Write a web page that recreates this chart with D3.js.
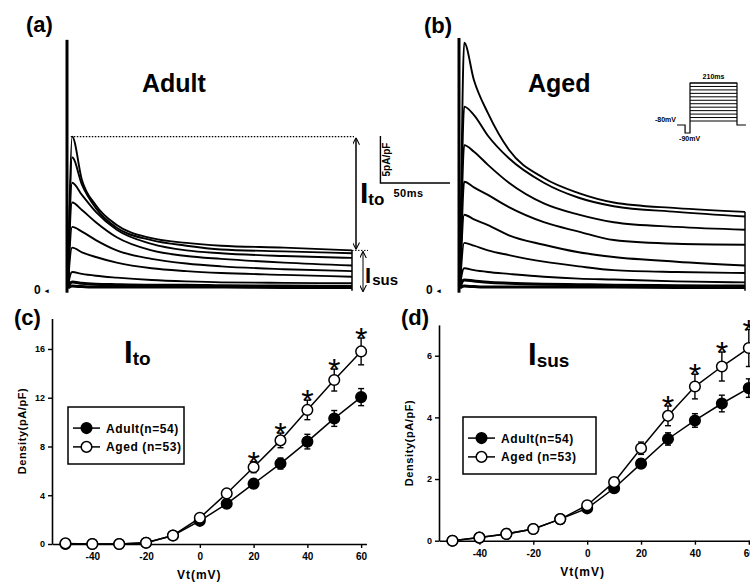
<!DOCTYPE html>
<html>
<head>
<meta charset="utf-8">
<script src="https://cdn.jsdelivr.net/npm/d3@7"></script>
<style>
  body { margin: 0; background: #fff; }
  text { font-family: "Liberation Sans", Arial, sans-serif; font-weight: bold; fill: #000; }
</style>
</head>
<body>
<div id="chart"></div>
<script>
var width = 750;
var height = 587;

// test potentials (mV)
var voltages = [-50, -40, -30, -20, -10, 0, 10, 20, 30, 40, 50, 60];

// Ito density (pA/pF)
var itoAdult = [0, 0, 0, 0.1, 0.7, 1.9, 3.3, 4.95, 6.6, 8.4, 10.3, 12.05];
var itoAdultErr = [0.05, 0.05, 0.05, 0.1, 0.15, 0.2, 0.3, 0.35, 0.45, 0.6, 0.65, 0.7];
var itoAged = [0.05, 0, 0, 0.1, 0.7, 2.15, 4.15, 6.3, 8.5, 11.0, 13.45, 15.8];
var itoAgedErr = [0.05, 0.05, 0.05, 0.1, 0.15, 0.25, 0.3, 0.45, 0.6, 0.8, 0.9, 1.1];
var itoStars = [20, 30, 40, 50, 60];

// Isus density (pA/pF)
var susAdult = [0, 0.1, 0.22, 0.38, 0.7, 1.05, 1.7, 2.5, 3.3, 3.9, 4.45, 4.95];
var susAdultErr = [0.03, 0.03, 0.05, 0.05, 0.08, 0.1, 0.12, 0.15, 0.2, 0.22, 0.27, 0.3];
var susAged = [0, 0.1, 0.22, 0.38, 0.7, 1.15, 1.9, 3.0, 4.05, 5.0, 5.65, 6.25];
var susAgedErr = [0.03, 0.03, 0.05, 0.05, 0.08, 0.1, 0.12, 0.2, 0.32, 0.4, 0.47, 0.6];
var susStars = [30, 40, 50, 60];

var itoTicks = [0, 4, 8, 12, 16];
var susTicks = [0, 2, 4, 6];
var vTicks = [-40, -20, 0, 20, 40, 60];
var legendLabels = ['Adult(n=54)', 'Aged (n=53)'];

// current traces, sampled at traceTimes (ms), values in pA/pF
var traceTimes = [0, 1, 3, 10, 20, 35, 60, 85, 110, 155, 204];
var adultTraces = [
  [0, 8, 16.1, 11.5, 8.8, 6.7, 5.3, 4.8, 4.5, 4.3, 4.0],
  [0, 7, 13.9, 11.0, 8.5, 6.4, 5.1, 4.5, 4.1, 3.9, 3.7],
  [0, 6, 11.2, 9.9, 8.1, 6.2, 4.7, 4.0, 3.7, 3.4, 3.2],
  [0, 5, 9.1, 8.3, 7.0, 5.4, 4.0, 3.4, 3.1, 2.7, 2.4],
  [0, 3.5, 6.5, 6.0, 5.1, 4.0, 3.1, 2.6, 2.3, 2.0, 1.8],
  [0, 2.5, 4.3, 3.8, 3.3, 2.7, 2.1, 1.8, 1.6, 1.4, 1.2],
  [0, 1.0, 1.7, 1.5, 1.3, 1.1, 0.85, 0.7, 0.6, 0.55, 0.5],
  [0, 0.4, 0.65, 0.5, 0.4, 0.35, 0.3, 0.3, 0.25, 0.2, 0.15],
  [0, 0.1, 0.2, 0.15, 0.1, 0.1, 0.1, 0.1, 0.1, 0.05, 0.05]
];
var agedTraces = [
  [0, 12, 26.1, 22.1, 18.6, 14.7, 11.7, 10.1, 9.1, 8.5, 8.1],
  [0, 9, 19.3, 18.4, 16.2, 13.8, 11.2, 9.6, 8.7, 8.1, 7.6],
  [0, 7, 15.2, 14.5, 13.1, 11.2, 9.0, 7.8, 7.0, 6.5, 6.2],
  [0, 5, 11.3, 10.7, 9.9, 8.6, 7.0, 6.0, 5.1, 4.7, 4.6],
  [0, 4, 7.8, 7.3, 6.7, 5.6, 4.6, 3.8, 3.3, 2.8, 2.4],
  [0, 2.5, 4.8, 4.5, 4.0, 3.5, 2.8, 2.3, 1.9, 1.7, 1.6],
  [0, 1.2, 2.1, 1.9, 1.7, 1.5, 1.2, 1.0, 0.9, 0.7, 0.6],
  [0, 0.5, 0.85, 0.75, 0.6, 0.5, 0.4, 0.35, 0.3, 0.25, 0.2],
  [0, 0.1, 0.2, 0.15, 0.1, 0.1, 0.1, 0.1, 0.1, 0.05, 0.05]
];
var artifactTop = [26.4, 26.6];

// voltage protocol inset
var protoTimes = [-58, -22, 0, 210, 250];
var holdV = -80;
var preV = -90;

var svg = d3.select('#chart').append('svg')
  .attr('width', width)
  .attr('height', height);

svg.append('defs').append('marker')
  .attr('id', 'arr')
  .attr('viewBox', '0 0 10 10')
  .attr('refX', 10).attr('refY', 5)
  .attr('markerWidth', 7).attr('markerHeight', 7)
  .attr('markerUnits', 'userSpaceOnUse')
  .attr('orient', 'auto-start-reverse')
  .append('path')
  .attr('d', 'M0,0 L10,5 L0,10')
  .attr('fill', 'none')
  .attr('stroke', '#000')
  .attr('stroke-width', 1.5);

// ---------- panels (a) and (b): current traces ----------
var cur = d3.scaleLinear().domain([0, 27]).range([288, 34.2]);
var ta = d3.scaleLinear().domain([0, 204]).range([68, 352]);
var tb = d3.scaleLinear().domain([0, 204]).range([460, 745]);

function drawTraces(g, tx, traces, artTop) {
  var line = d3.line()
    .x(function(d, i) { return tx(traceTimes[i]); })
    .y(function(d) { return cur(d); })
    .curve(d3.curveMonotoneX);
  g.selectAll('.trace')
    .data(traces)
    .enter()
    .append('path')
    .attr('class', 'trace')
    .attr('d', function(d) { return line(d); })
    .attr('fill', 'none')
    .attr('stroke', '#000')
    .attr('stroke-width', function(d, i) { return i >= traces.length - 2 ? 3 : 1.9; });
  // capacitive artifact
  g.append('line')
    .attr('x1', tx(0) - 1).attr('x2', tx(0) - 1)
    .attr('y1', cur(-0.5)).attr('y2', cur(artTop))
    .attr('stroke', '#000').attr('stroke-width', 3);
  // tail at end of pulse
  var tEnd = traceTimes[traceTimes.length - 1];
  g.append('line')
    .attr('x1', tx(tEnd)).attr('x2', tx(tEnd))
    .attr('y1', cur(traces[0][traces[0].length - 1])).attr('y2', cur(-0.3))
    .attr('stroke', '#000').attr('stroke-width', 1.5);
  g.append('text')
    .attr('x', tx(0) - 34).attr('y', cur(0) + 6)
    .attr('font-size', 12)
    .text('0');
  g.append('text')
    .attr('x', tx(0) - 23).attr('y', cur(0) + 5)
    .attr('font-size', 7)
    .text('\u25C2');
}

var ga = svg.append('g');
drawTraces(ga, ta, adultTraces, artifactTop[0]);
var gb = svg.append('g');
drawTraces(gb, tb, agedTraces, artifactTop[1]);

// Ito / Isus annotations on (a)
var tEndA = traceTimes[traceTimes.length - 1];
var peakA = d3.max(adultTraces[0]);
var susA = adultTraces[0][adultTraces[0].length - 1];
ga.append('line')
  .attr('x1', ta(2)).attr('x2', ta(tEndA) + 2)
  .attr('y1', cur(peakA)).attr('y2', cur(peakA))
  .attr('stroke', '#000').attr('stroke-width', 1.4)
  .attr('stroke-dasharray', '1.5,1.5');
ga.append('line')
  .attr('x1', ta(tEndA) + 4).attr('x2', ta(tEndA) + 4)
  .attr('y1', cur(peakA) + 1).attr('y2', cur(susA) - 1)
  .attr('stroke', '#000').attr('stroke-width', 1.5)
  .attr('marker-start', 'url(#arr)')
  .attr('marker-end', 'url(#arr)');
ga.append('line')
  .attr('x1', ta(tEndA)).attr('x2', ta(tEndA) + 16)
  .attr('y1', cur(susA)).attr('y2', cur(susA))
  .attr('stroke', '#000').attr('stroke-width', 1)
  .attr('stroke-dasharray', '1.5,1.5');
ga.append('line')
  .attr('x1', ta(tEndA) + 11).attr('x2', ta(tEndA) + 11)
  .attr('y1', cur(susA) + 1).attr('y2', cur(-0.4))
  .attr('stroke', '#000').attr('stroke-width', 1)
  .attr('marker-start', 'url(#arr)')
  .attr('marker-end', 'url(#arr)');

var itoLab = svg.append('text').attr('x', 360).attr('y', 203);
itoLab.append('tspan').attr('font-size', 30).text('I');
itoLab.append('tspan').attr('font-size', 17).attr('dy', 2).text('to');
var susLab = svg.append('text').attr('x', 365).attr('y', 283);
susLab.append('tspan').attr('font-size', 22).text('I');
susLab.append('tspan').attr('font-size', 15).attr('dx', 1).attr('dy', 2).text('sus');

// scale bar 5 pA/pF, 50 ms
var sbx = ta(0) + (tb(0) - ta(0)) * 0.797;
svg.append('path')
  .attr('d', 'M' + sbx + ',' + (cur(0) - 105 + cur(5) - cur(0)) + ' V' + (cur(0) - 105) +
    ' H' + (sbx + (ta(50) - ta(0))))
  .attr('fill', 'none')
  .attr('stroke', '#000')
  .attr('stroke-width', 1.4);
svg.append('text')
  .attr('transform', 'translate(' + (sbx + 10) + ',' + (cur(0) - 105 + (cur(5) - cur(0)) / 2) + ') rotate(-90)')
  .attr('text-anchor', 'middle')
  .attr('font-size', 10)
  .text('5pA/pF');
svg.append('text')
  .attr('x', sbx + 13).attr('y', cur(0) - 91)
  .attr('font-size', 11)
  .attr('letter-spacing', 0.5)
  .text('50ms');

// voltage protocol inset on (b)
var px = d3.scaleLinear().domain([0, 210]).range([690, 737]);
var py = d3.scaleLinear().domain([-90, -80, -50, 60]).range([133, 125, 121, 83]);
var proto = svg.append('g');
proto.append('path')
  .attr('d', 'M' + px(protoTimes[0]) + ',' + py(holdV) + ' H' + px(protoTimes[1]) +
    ' V' + py(preV) + ' H' + px(protoTimes[2]) + ' V' + py(voltages[voltages.length - 1]) +
    ' H' + px(protoTimes[3]) + ' V' + py(holdV) + ' H' + px(protoTimes[4]))
  .attr('fill', 'none').attr('stroke', '#000').attr('stroke-width', 1.2);
proto.selectAll('.step')
  .data(voltages)
  .enter()
  .append('line')
  .attr('x1', px(0)).attr('x2', px(210))
  .attr('y1', function(d) { return py(d); })
  .attr('y2', function(d) { return py(d); })
  .attr('stroke', '#000').attr('stroke-width', 1);
proto.append('text').attr('x', px(105)).attr('y', py(60) - 4)
  .attr('text-anchor', 'middle').attr('font-size', 7).text('210ms');
proto.append('text').attr('x', px(protoTimes[0]) - 1).attr('y', py(holdV) - 3)
  .attr('text-anchor', 'end').attr('font-size', 7).text('-80mV');
proto.append('text').attr('x', px(protoTimes[1]) - 6).attr('y', py(preV) + 8)
  .attr('font-size', 7).text('-90mV');
proto.selectAll('text').style('fill', '#000');

// titles
svg.append('text').attr('x', 142).attr('y', 92).attr('font-size', 25).text('Adult');
svg.append('text').attr('x', 528).attr('y', 92).attr('font-size', 25).text('Aged');
svg.append('text').attr('x', 26).attr('y', 32).attr('font-size', 22).text('(a)');
svg.append('text').attr('x', 424).attr('y', 33).attr('font-size', 22).text('(b)');
svg.append('text').attr('x', 14).attr('y', 325).attr('font-size', 22).text('(c)');
svg.append('text').attr('x', 401).attr('y', 325).attr('font-size', 22).text('(d)');

// ---------- panels (c) and (d): I-V curves ----------
function drawIV(opt) {
  var g = svg.append('g');
  var x = d3.scaleLinear().domain([-55, 62]).range(opt.xr);
  var y = d3.scaleLinear().domain([0, opt.ymax]).range(opt.yr);

  g.append('g')
    .attr('transform', 'translate(0,' + opt.yr[0] + ')')
    .call(d3.axisBottom(x).tickValues(vTicks).tickSize(4).tickSizeOuter(0)
      .tickFormat(function(d) { return String(d); }))
    .call(function(a) {
      a.select('.domain').attr('stroke-width', 1.6);
      a.selectAll('line').attr('stroke-width', 1.4);
      a.selectAll('text').attr('font-size', 10).attr('dy', '0.9em');
    });
  g.append('g')
    .attr('transform', 'translate(' + opt.xr[0] + ',0)')
    .call(d3.axisLeft(y).tickValues(opt.ticks).tickSize(4).tickSizeOuter(0)
      .tickFormat(function(d) { return String(d); }))
    .call(function(a) {
      a.select('.domain').attr('stroke-width', 1.6);
      a.selectAll('line').attr('stroke-width', 1.4);
      a.selectAll('text').attr('font-size', 9);
    });
  g.selectAll('.tick text').attr('font-family', '"Liberation Sans Narrow", "Liberation Sans", sans-serif');

  g.append('text')
    .attr('x', (x(-55) + x(62)) / 2 + opt.vtShift).attr('y', opt.yr[0] + 35)
    .attr('text-anchor', 'middle')
    .attr('font-size', 12)
    .attr('letter-spacing', 1)
    .text('Vt(mV)');
  g.append('text')
    .attr('transform', 'translate(' + (opt.xr[0] - 26) + ',' + opt.labY + ') rotate(-90)')
    .attr('text-anchor', 'middle')
    .attr('font-size', 11)
    .attr('letter-spacing', 0.6)
    .text('Density(pA/pF)');

  var line = d3.line()
    .x(function(d, i) { return x(voltages[i]); })
    .y(function(d) { return y(d); });

  var series = [
    { vals: opt.adult, err: opt.adultErr, fill: '#000' },
    { vals: opt.aged, err: opt.agedErr, fill: '#fff' }
  ];
  series.forEach(function(s) {
    g.append('path')
      .attr('d', line(s.vals))
      .attr('fill', 'none').attr('stroke', '#000').attr('stroke-width', 1.5);
    var eb = g.selectAll(null)
      .data(s.vals)
      .enter()
      .append('g');
    eb.append('line')
      .attr('x1', function(d, i) { return x(voltages[i]); })
      .attr('x2', function(d, i) { return x(voltages[i]); })
      .attr('y1', function(d, i) { return y(d - s.err[i]); })
      .attr('y2', function(d, i) { return y(d + s.err[i]); })
      .attr('stroke', '#000').attr('stroke-width', 1.4);
    ['-', '+'].forEach(function(sign) {
      eb.append('line')
        .attr('x1', function(d, i) { return x(voltages[i]) - 3; })
        .attr('x2', function(d, i) { return x(voltages[i]) + 3; })
        .attr('y1', function(d, i) { return y(sign == '+' ? d + s.err[i] : d - s.err[i]); })
        .attr('y2', function(d, i) { return y(sign == '+' ? d + s.err[i] : d - s.err[i]); })
        .attr('stroke', '#000').attr('stroke-width', 1.4);
    });
    g.selectAll(null)
      .data(s.vals)
      .enter()
      .append('circle')
      .attr('cx', function(d, i) { return x(voltages[i]); })
      .attr('cy', function(d) { return y(d); })
      .attr('r', 5.3)
      .attr('fill', s.fill)
      .attr('stroke', '#000')
      .attr('stroke-width', 1.5);
  });

  // significance marks
  g.selectAll('.star')
    .data(opt.stars)
    .enter()
    .append('text')
    .attr('class', 'star')
    .attr('x', function(d) { return x(d); })
    .attr('y', function(d) {
      var i = voltages.indexOf(d);
      return y(opt.aged[i] + opt.agedErr[i]) + 12;
    })
    .attr('text-anchor', 'middle')
    .attr('font-size', 32)
    .style('font-weight', 'normal')
    .text('*');

  // title
  var t = g.append('text').attr('x', opt.titleX).attr('y', opt.titleY);
  t.append('tspan').attr('font-size', 31).text('I');
  t.append('tspan').attr('font-size', 19).attr('dy', 2).text(opt.sub);

  // legend
  var lg = g.append('g').attr('transform', 'translate(' + opt.leg[0] + ',' + opt.leg[1] + ')');
  lg.append('rect')
    .attr('width', opt.leg[2]).attr('height', opt.leg[3])
    .attr('fill', 'none').attr('stroke', '#000').attr('stroke-width', 1.5);
  var items = lg.selectAll('.item')
    .data(legendLabels)
    .enter()
    .append('g')
    .attr('transform', function(d, i) { return 'translate(0,' + (opt.leg[3] * 0.37 + i * opt.leg[3] * 0.33) + ')'; });
  items.append('line')
    .attr('x1', 5).attr('x2', 32)
    .attr('stroke', '#000').attr('stroke-width', 1.5);
  items.append('circle')
    .attr('cx', 18.5).attr('r', 5.3)
    .attr('fill', function(d, i) { return series[i].fill; })
    .attr('stroke', '#000').attr('stroke-width', 1.5);
  items.append('text')
    .attr('x', 38).attr('y', 4.5)
    .attr('font-size', 12)
    .attr('letter-spacing', 0.6)
    .text(function(d) { return d; });
}

drawIV({
  xr: [52, 366.5], yr: [544, 318.5], ymax: 18.5, ticks: itoTicks,
  adult: itoAdult, adultErr: itoAdultErr, aged: itoAged, agedErr: itoAgedErr,
  stars: itoStars, sub: 'to', titleX: 124, titleY: 363,
  leg: [68, 407, 116, 57], labY: 431, vtShift: -10
});
drawIV({
  xr: [439, 754.2], yr: [540.7, 324.9], ymax: 7, ticks: susTicks,
  adult: susAdult, adultErr: susAdultErr, aged: susAged, agedErr: susAgedErr,
  stars: susStars, sub: 'sus', titleX: 528, titleY: 365,
  leg: [463, 417, 133, 57], labY: 443, vtShift: -14
});
</script>
</body>
</html>
